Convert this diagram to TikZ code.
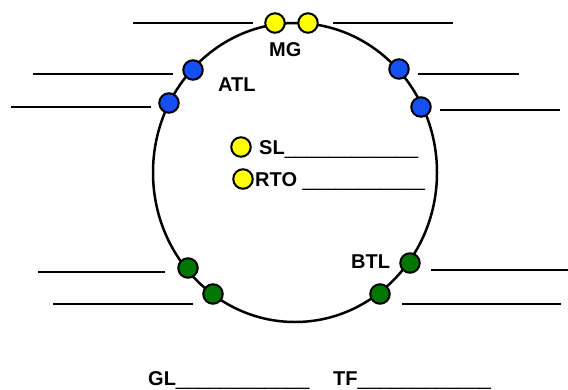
\documentclass[tikz,border=0pt]{standalone}
\usepackage{fontspec}
\setmainfont{Liberation Sans}
\definecolor{dotyellow}{RGB}{255,255,0}
\definecolor{dotblue}{RGB}{20,80,245}
\definecolor{dotgreen}{RGB}{0,120,0}
\newcommand{\blanks}[1]{{\mdseries\foreach \i in {1,...,#1}{\_}}}

\begin{document}
\begin{tikzpicture}[x=1pt,y=-1pt,
  blank/.style={line width=2.5pt},
  dot/.style={circle,draw,line width=2pt,minimum size=19.5pt,inner sep=0pt},
  lbl/.style={anchor=base west,inner sep=0pt,font=\bfseries\fontsize{20}{24}\selectfont}]

\useasboundingbox (0,0) rectangle (568,389);

\draw [line width=2.5pt] (295,172.5) ellipse [x radius=142, y radius=149.5];

\node [dot,fill=dotyellow] (mg1) at (275,23) {};
\node [dot,fill=dotyellow] (mg2) at (308,23) {};
\draw [blank] (133,23) -- (253,23);
\draw [blank] (333,23) -- (453,23);
\node [lbl] (mg) at (269,56) {MG};

\node [dot,fill=dotblue] (atl1) at (193,70) {};
\node [dot,fill=dotblue] (atl2) at (169,103) {};
\node [dot,fill=dotblue] (atl3) at (399,69) {};
\node [dot,fill=dotblue] (atl4) at (421,107) {};
\draw [blank] (33,74) -- (173,74);
\draw [blank] (11,107) -- (151,107);
\draw [blank] (418,74) -- (519,74);
\draw [blank] (440,110) -- (560,110);
\node [lbl] (atl) at (218,91) {ATL};

\node [dot,fill=dotyellow] (sl) at (241,147) {};
\node [dot,fill=dotyellow] (rto) at (243,179) {};
\node [lbl] (sltext) at (259,154) {SL\blanks{12}};
\node [lbl] (rtotext) at (255,186) {RTO \blanks{11}};

\node [dot,fill=dotgreen] (btl1) at (188,268) {};
\node [dot,fill=dotgreen] (btl2) at (213,294) {};
\node [dot,fill=dotgreen] (btl3) at (410,263) {};
\node [dot,fill=dotgreen] (btl4) at (380,294) {};
\draw [blank] (38,272) -- (165,272);
\draw [blank] (53,304) -- (193,304);
\draw [blank] (431,270) -- (568,270);
\draw [blank] (402,304) -- (561,304);
\node [lbl] (btl) at (351,268) {BTL};

\node [lbl] (gl) at (148,385) {GL\blanks{12}};
\node [lbl] (tf) at (333,385) {TF\blanks{12}};

\end{tikzpicture}
\end{document}
